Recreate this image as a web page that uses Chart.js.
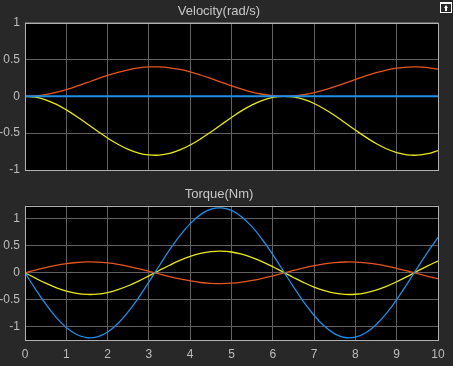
<!DOCTYPE html>
<html>
<head>
<meta charset="UTF-8">
<title>Velocity / Torque</title>
<script src="https://cdn.jsdelivr.net/npm/chart.js"></script>
<style>
  body { margin: 0; background: #282828; overflow: hidden; }
  #wrap { position: relative; width: 453px; height: 366px; }
  .box { position: absolute; left: 0; width: 453px; height: 183px; }
  #topBox { top: 0; }
  #bottomBox { top: 183px; }
  #undock { position: absolute; left: 440px; top: 2px; width: 10px; height: 8px;
            border: 1px solid #fff; border-top-width: 2px; }
  #undock::after { content: ""; position: absolute; left: 3px; top: 1px;
                   border-left: 2px solid transparent; border-right: 2px solid transparent;
                   border-bottom: 3px solid #fff; }
  #undock::before { content: ""; position: absolute; left: 4px; top: 3px; width: 2px; height: 4px; background: #fff; }
</style>
</head>
<body>
<div id="wrap">
  <div class="box" id="topBox"><canvas id="velChart" width="453" height="183"></canvas></div>
  <div class="box" id="bottomBox"><canvas id="trqChart" width="453" height="183"></canvas></div>
  <div id="undock"></div>
</div>

<script>
// time axis (s)
const tSec = [0, 0.25, 0.5, 0.75, 1, 1.25, 1.5, 1.75, 2, 2.25, 2.5, 2.75, 3, 3.25, 3.5, 3.75,
  4, 4.25, 4.5, 4.75, 5, 5.25, 5.5, 5.75, 6, 6.25, 6.5, 6.75, 7, 7.25, 7.5, 7.75,
  8, 8.25, 8.5, 8.75, 9, 9.25, 9.5, 9.75, 10];

const xTicks = [0, 1, 2, 3, 4, 5, 6, 7, 8, 9, 10];
const yTicks = [-1, -0.5, 0, 0.5, 1];

// Velocity(rad/s)
const velBlue = [0, 0, 0, 0, 0, 0, 0, 0, 0, 0, 0, 0, 0, 0, 0, 0, 0, 0, 0, 0, 0,
  0, 0, 0, 0, 0, 0, 0, 0, 0, 0, 0, 0, 0, 0, 0, 0, 0, 0, 0, 0];
const velOrange = [0, 0.006, 0.024, 0.054, 0.092, 0.137, 0.186, 0.236, 0.283, 0.326, 0.360,
  0.385, 0.398, 0.399, 0.387, 0.364, 0.331, 0.289, 0.242, 0.192, 0.143, 0.098, 0.058,
  0.028, 0.008, 0.000, 0.005, 0.021, 0.049, 0.086, 0.131, 0.179, 0.229, 0.277, 0.320,
  0.356, 0.382, 0.397, 0.399, 0.390, 0.368];
const velYellow = [0, -0.012, -0.049, -0.107, -0.184, -0.274, -0.372, -0.471, -0.566, -0.651,
  -0.720, -0.770, -0.796, -0.798, -0.775, -0.728, -0.661, -0.578, -0.484, -0.385, -0.287,
  -0.195, -0.117, -0.056, -0.016, 0.000, -0.009, -0.043, -0.098, -0.173, -0.261, -0.359,
  -0.458, -0.554, -0.641, -0.712, -0.764, -0.794, -0.799, -0.779, -0.736];

// Torque(Nm)
const trqBlue = [0, -0.297, -0.575, -0.818, -1.010, -1.139, -1.197, -1.181, -1.091, -0.934,
  -0.718, -0.458, -0.169, 0.130, 0.421, 0.686, 0.908, 1.074, 1.173, 1.199, 1.151, 1.031,
  0.847, 0.610, 0.335, 0.040, -0.258, -0.540, -0.788, -0.988, -1.126, -1.194, -1.187,
  -1.107, -0.958, -0.750, -0.495, -0.209, 0.090, 0.383, 0.653];
const trqOrange = [0, 0.049, 0.096, 0.136, 0.168, 0.190, 0.200, 0.197, 0.182, 0.156, 0.120,
  0.076, 0.028, -0.022, -0.070, -0.114, -0.151, -0.179, -0.196, -0.200, -0.192, -0.172,
  -0.141, -0.102, -0.056, -0.007, 0.043, 0.090, 0.131, 0.165, 0.188, 0.199, 0.198, 0.185,
  0.160, 0.125, 0.082, 0.035, -0.015, -0.064, -0.109];
const trqYellow = [0, -0.099, -0.192, -0.273, -0.337, -0.380, -0.399, -0.394, -0.364, -0.311,
  -0.239, -0.153, -0.056, 0.043, 0.140, 0.229, 0.303, 0.358, 0.391, 0.400, 0.384, 0.344,
  0.282, 0.203, 0.112, 0.013, -0.086, -0.180, -0.263, -0.329, -0.375, -0.398, -0.396,
  -0.369, -0.319, -0.250, -0.165, -0.070, 0.030, 0.128, 0.218];

const BLUE = '#1e8ee6', ORANGE = '#e5561c', YELLOW = '#e8e815';
const TEXT = '#bdbdbd', GRID = '#616161', FRAME = '#b0b0b0';

Chart.defaults.font.family = '"Liberation Sans", Arial, sans-serif';
Chart.defaults.font.size = 12;
Chart.defaults.color = TEXT;

function pts(ys) {
  return ys.map((y, i) => ({ x: tSec[i], y: y }));
}

function line(ys, color, w) {
  return { data: pts(ys), borderColor: color, borderWidth: w || 1.3, pointRadius: 0, tension: 0.4, fill: false };
}

const scopePlot = {
  id: 'scopePlot',
  beforeDraw(chart) {
    const a = chart.chartArea, c = chart.ctx;
    c.save();
    c.fillStyle = '#000';
    c.fillRect(a.left, a.top, a.right - a.left, a.bottom - a.top);
    c.restore();
  },
  afterDraw(chart) {
    const a = chart.chartArea, c = chart.ctx;
    c.save();
    c.strokeStyle = FRAME;
    c.lineWidth = 1;
    c.strokeRect(Math.round(a.left) + 0.5, Math.round(a.top) + 0.5,
      Math.round(a.right - a.left), Math.round(a.bottom - a.top));
    c.restore();
  }
};

function makeChart(id, title, datasets, yMin, yMax, showX) {
  return new Chart(document.getElementById(id), {
    type: 'line',
    data: { datasets: datasets },
    plugins: [scopePlot],
    options: {
      responsive: false,
      animation: false,
      layout: { padding: { left: 0, right: 15, top: 0, bottom: 0 } },
      plugins: {
        legend: { display: false },
        tooltip: { enabled: false },
        title: { display: true, text: title, color: '#c8c8c8', font: { size: 13, weight: 'normal' },
                 padding: { top: 4, bottom: 3 } }
      },
      scales: {
        x: {
          type: 'linear', min: 0, max: 10,
          afterBuildTicks: s => { s.ticks = xTicks.map(v => ({ value: v })); },
          afterFit: s => { s.height = showX ? 26 : 13; },
          grid: { color: GRID, drawTicks: false },
          border: { display: false },
          ticks: { display: showX, padding: 7, color: TEXT, maxRotation: 0, callback: v => String(v) }
        },
        y: {
          min: yMin, max: yMax,
          afterBuildTicks: s => { s.ticks = yTicks.map(v => ({ value: v })); },
          afterFit: s => { s.width = 25; },
          grid: { color: GRID, drawTicks: false },
          border: { display: false },
          ticks: { padding: 5, color: TEXT, callback: v => String(v) }
        }
      }
    }
  });
}

makeChart('velChart', 'Velocity(rad/s)',
  [line(velBlue, BLUE, 2), line(velOrange, ORANGE), line(velYellow, YELLOW)], -1, 1, false);

makeChart('trqChart', 'Torque(Nm)',
  [line(trqBlue, BLUE), line(trqOrange, ORANGE), line(trqYellow, YELLOW)], -1.24, 1.24, true);
</script>
</body>
</html>
